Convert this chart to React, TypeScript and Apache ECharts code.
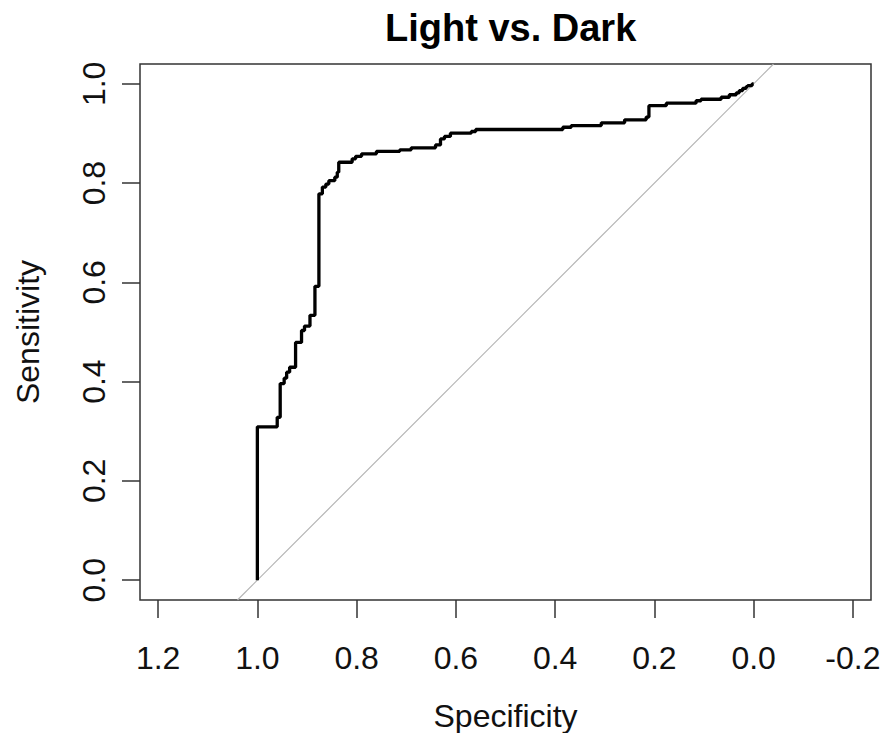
import React, { useEffect, useRef } from "react";
import * as echarts from "echarts";

// ROC curve vertices (specificity, sensitivity)
const specificity = [
  1.0, 1.0, 0.96, 0.96, 0.954, 0.954, 0.946, 0.946, 0.941, 0.941, 0.935, 0.935,
  0.923, 0.923, 0.911, 0.911, 0.905, 0.905, 0.894, 0.894, 0.884, 0.884, 0.876, 0.876,
  0.869, 0.869, 0.862, 0.862, 0.856, 0.856, 0.844, 0.844, 0.839, 0.839, 0.836, 0.836,
  0.809, 0.809, 0.802, 0.802, 0.79, 0.79, 0.76, 0.76, 0.713, 0.713, 0.69, 0.69,
  0.641, 0.641, 0.631, 0.631, 0.623, 0.623, 0.611, 0.611, 0.569, 0.569, 0.56, 0.56,
  0.3845, 0.3845, 0.3676, 0.3676, 0.307, 0.307, 0.26, 0.26, 0.2165, 0.2165, 0.211, 0.211,
  0.176, 0.176, 0.116, 0.116, 0.106, 0.106, 0.0655, 0.0655, 0.049, 0.049, 0.035, 0.035,
  0.029, 0.029, 0.022, 0.022, 0.015, 0.015, 0.012, 0.012, 0.003, 0.003, 0.0,
];
const sensitivity = [
  0.0, 0.309, 0.309, 0.328, 0.328, 0.396, 0.396, 0.407, 0.407, 0.419, 0.419, 0.429,
  0.429, 0.479, 0.479, 0.503, 0.503, 0.512, 0.512, 0.5335, 0.5335, 0.592, 0.592, 0.7785,
  0.7785, 0.792, 0.792, 0.798, 0.798, 0.805, 0.805, 0.812, 0.812, 0.822, 0.822, 0.842,
  0.842, 0.849, 0.849, 0.854, 0.854, 0.859, 0.859, 0.864, 0.864, 0.867, 0.867, 0.871,
  0.871, 0.877, 0.877, 0.889, 0.889, 0.894, 0.894, 0.9006, 0.9006, 0.904, 0.904, 0.908,
  0.908, 0.9126, 0.9126, 0.916, 0.916, 0.9215, 0.9215, 0.9275, 0.9275, 0.933, 0.933, 0.956,
  0.956, 0.961, 0.961, 0.966, 0.966, 0.969, 0.969, 0.973, 0.973, 0.978, 0.978, 0.982,
  0.982, 0.9865, 0.9865, 0.991, 0.991, 0.9946, 0.9946, 0.9966, 0.9966, 1.0, 1.0,
];

// chance diagonal (abline a=1, b=-1), clipped to plot region
const diagonalX = [1.04, -0.04];
const diagonalY = [-0.04, 1.04];

const xTicks = [1.2, 1.0, 0.8, 0.6, 0.4, 0.2, 0.0, -0.2];
const yTicks = [0.0, 0.2, 0.4, 0.6, 0.8, 1.0];

const FONT = "'Liberation Sans', Arial, sans-serif";

export default function App() {
  const ref = useRef<HTMLDivElement>(null);
  useEffect(() => {
    if (!ref.current) return;
    const chart = echarts.init(ref.current, undefined, { renderer: "svg" });
    const curve = specificity.map((s, i) => [s, sensitivity[i]]);
    const diag = diagonalX.map((x, i) => [x, diagonalY[i]]);
    chart.setOption({
      animation: false,
      backgroundColor: "#ffffff",
      title: {
        text: "Light vs. Dark",
        left: 380,
        top: 4,
        textStyle: { fontFamily: FONT, fontSize: 38, fontWeight: "bold", color: "#000" },
      },
      grid: {
        left: 140,
        top: 64,
        width: 731,
        height: 536,
        show: true,
        borderColor: "#333",
        borderWidth: 1.5,
        backgroundColor: "transparent",
        containLabel: false,
        outerBoundsMode: "none",
      },
      xAxis: {
        type: "value",
        min: -0.2365,
        max: 1.2365,
        inverse: true,
        name: "Specificity",
        nameLocation: "middle",
        nameGap: 100,
        nameTextStyle: { fontFamily: FONT, fontSize: 32, color: "#111" },
        axisLine: { show: false, onZero: false },
        splitLine: { show: false },
        axisTick: {
          show: true,
          inside: false,
          length: 18,
          customValues: xTicks,
          lineStyle: { color: "#333", width: 1.5 },
        },
        axisLabel: {
          show: true,
          customValues: xTicks,
          margin: 42,
          fontFamily: FONT,
          fontSize: 32,
          color: "#111",
          formatter: (v: number) => v.toFixed(1),
        },
      },
      yAxis: {
        type: "value",
        min: -0.04,
        max: 1.04,
        name: "Sensitivity",
        nameLocation: "middle",
        nameGap: 96,
        nameRotate: 90,
        nameTextStyle: { fontFamily: FONT, fontSize: 32, color: "#111" },
        axisLine: { show: false, onZero: false },
        splitLine: { show: false },
        axisTick: {
          show: true,
          inside: false,
          length: 18,
          customValues: yTicks,
          lineStyle: { color: "#333", width: 1.5 },
        },
        axisLabel: {
          show: true,
          customValues: yTicks,
          rotate: 90,
          margin: 30,
          fontFamily: FONT,
          fontSize: 32,
          color: "#111",
          formatter: (v: number) => v.toFixed(1),
        },
      },
      series: [
        {
          type: "line",
          data: diag,
          symbol: "none",
          silent: true,
          lineStyle: { color: "#b4b4b4", width: 1.2 },
          z: 1,
        },
        {
          type: "line",
          data: curve,
          symbol: "none",
          silent: true,
          lineStyle: { color: "#000", width: 3.3 },
          z: 2,
        },
      ],
    });
    return () => chart.dispose();
  }, []);
  return (
    <div
      ref={ref}
      style={{ position: "fixed", left: 0, top: 0, width: 881, height: 733, background: "#fff" }}
    />
  );
}
